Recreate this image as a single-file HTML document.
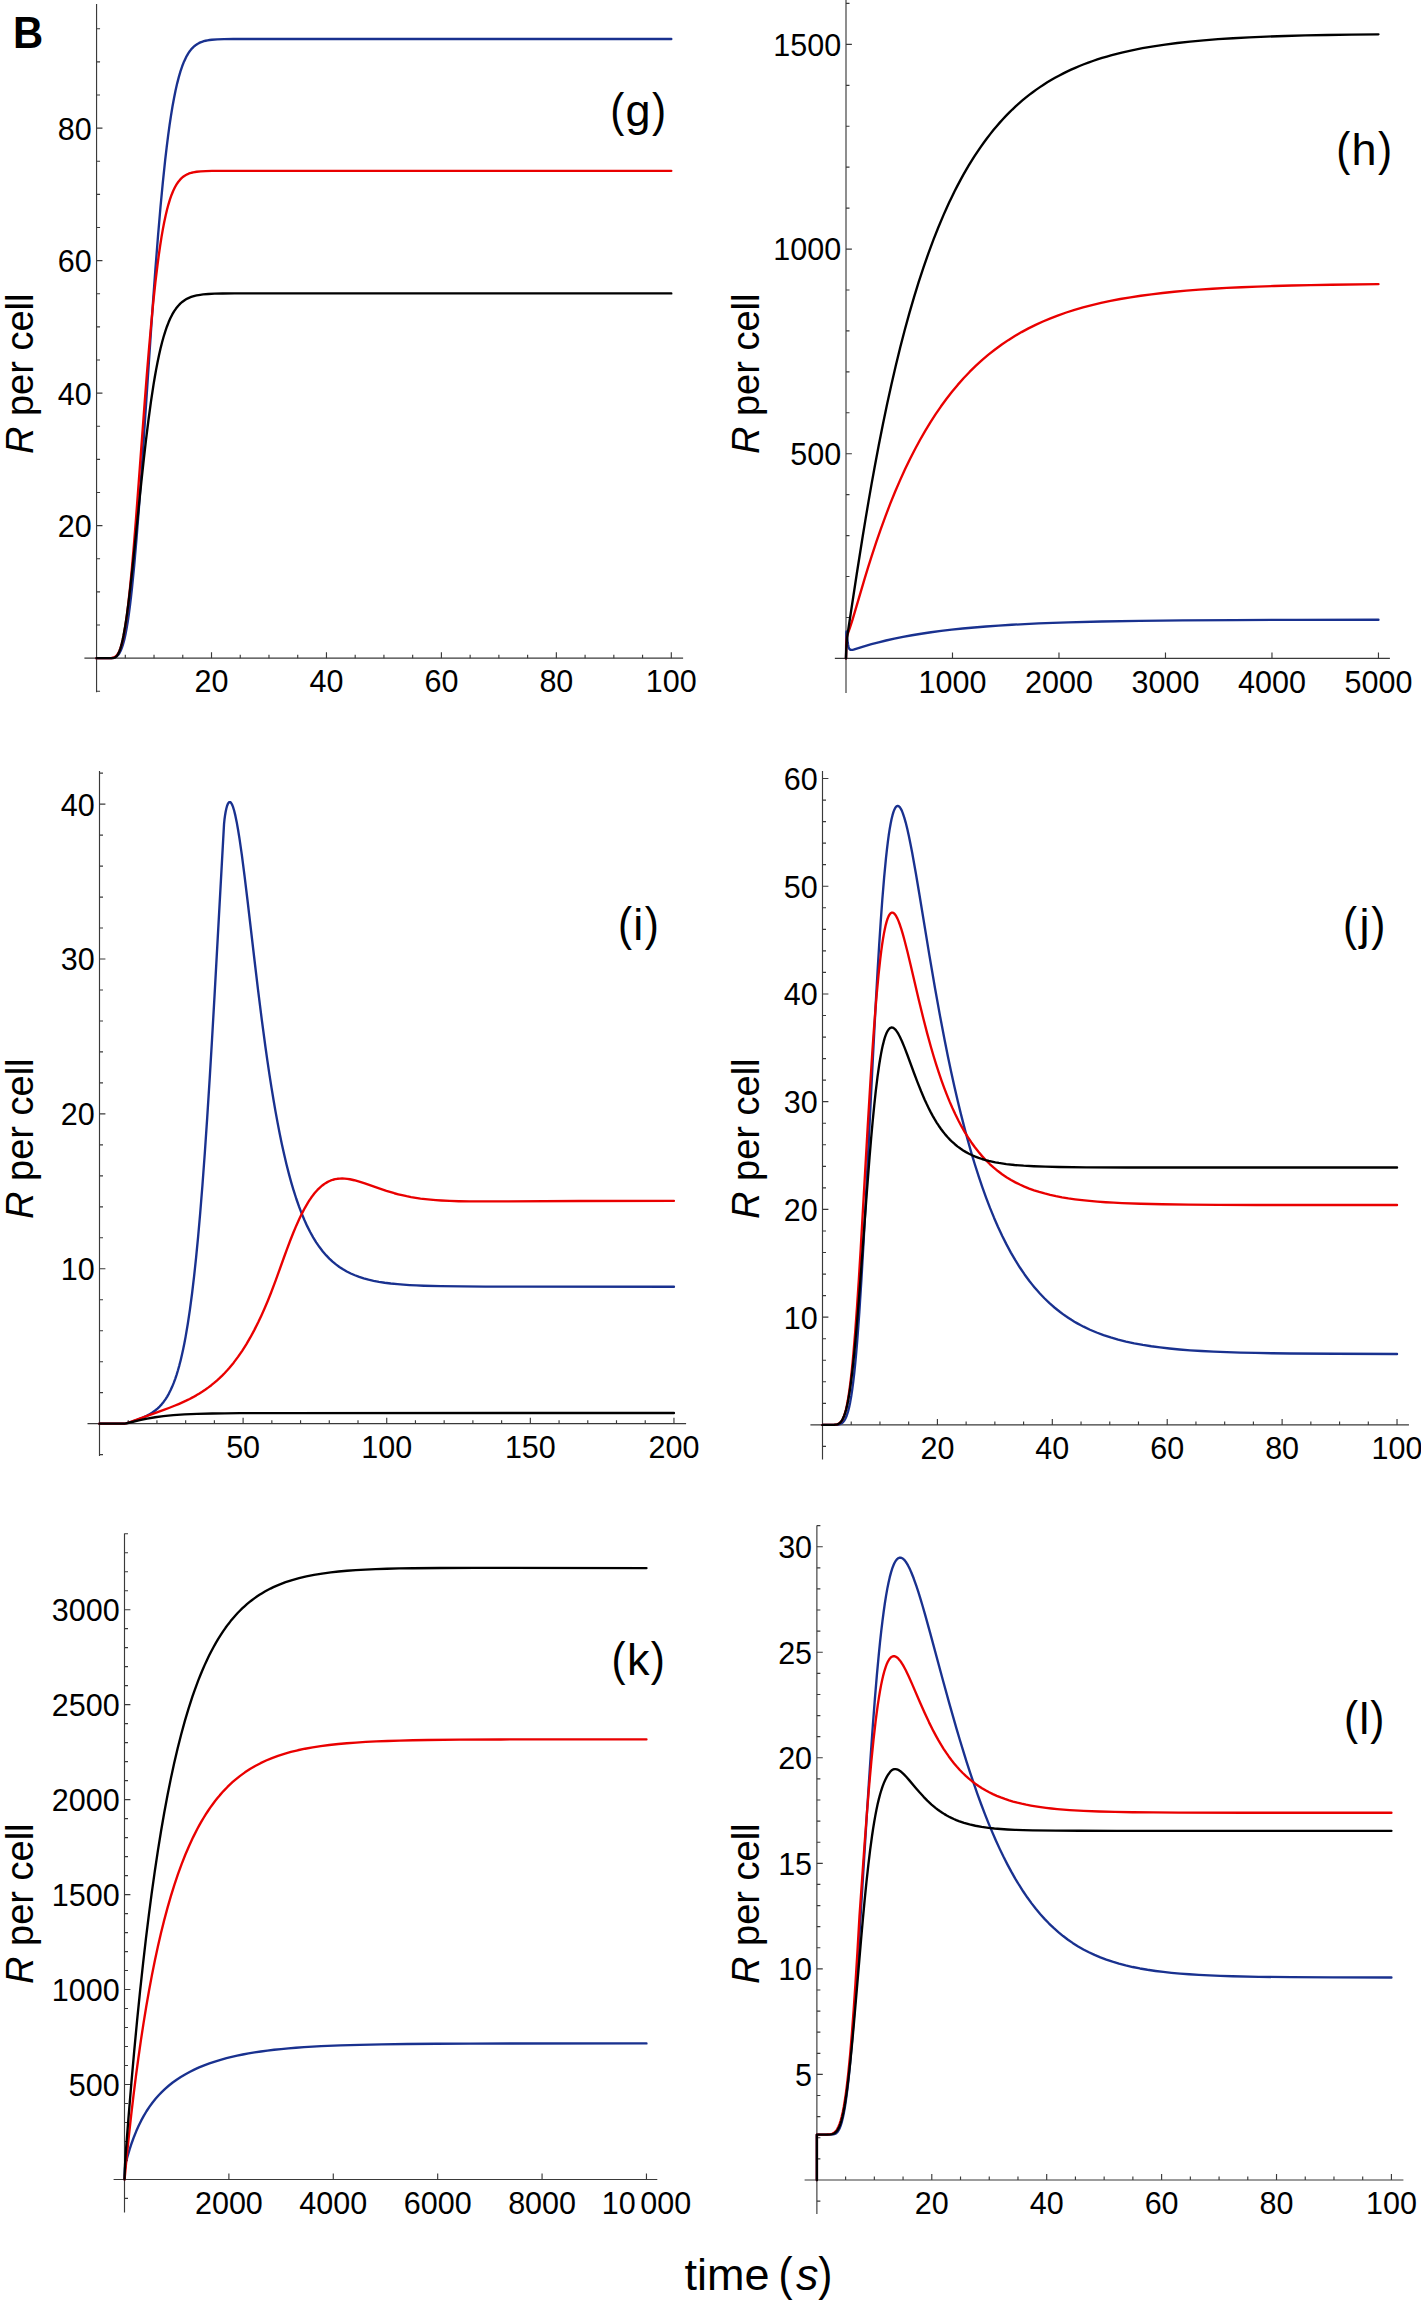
<!DOCTYPE html>
<html><head><meta charset="utf-8"><title>Figure B</title>
<style>
html,body{margin:0;padding:0;background:#fff;}
body{width:1421px;height:2300px;overflow:hidden;}
svg{display:block;font-family:"Liberation Sans",sans-serif;}
</style></head><body>
<svg xmlns="http://www.w3.org/2000/svg" width="1421" height="2300" viewBox="0 0 1421 2300">
<rect width="1421" height="2300" fill="#fff"/>
<g stroke="#3a3a3a" stroke-width="1.15" fill="none">
<line x1="84.4" y1="658.15" x2="683.1" y2="658.15"/>
<line x1="96.56" y1="4" x2="96.56" y2="692.3"/>
<path d="M211.51 658.15v-5.9M326.46 658.15v-5.9M441.4 658.15v-5.9M556.35 658.15v-5.9M671.3 658.15v-5.9M125.3 658.15v-3.5M154.03 658.15v-3.5M182.77 658.15v-3.5M240.25 658.15v-3.5M268.98 658.15v-3.5M297.72 658.15v-3.5M355.19 658.15v-3.5M383.93 658.15v-3.5M412.67 658.15v-3.5M470.14 658.15v-3.5M498.88 658.15v-3.5M527.62 658.15v-3.5M585.09 658.15v-3.5M613.83 658.15v-3.5M642.56 658.15v-3.5M96.56 525.65h5.9M96.56 393.15h5.9M96.56 260.65h5.9M96.56 128.15h5.9M96.56 691.27h3.5M96.56 625.02h3.5M96.56 591.9h3.5M96.56 558.77h3.5M96.56 492.52h3.5M96.56 459.4h3.5M96.56 426.27h3.5M96.56 360.02h3.5M96.56 326.9h3.5M96.56 293.77h3.5M96.56 227.52h3.5M96.56 194.4h3.5M96.56 161.27h3.5M96.56 95.02h3.5M96.56 61.9h3.5M96.56 28.77h3.5"/>
</g>
<g font-size="30.5" fill="#000">
<text x="211.51" y="692.45" text-anchor="middle">20</text>
<text x="326.46" y="692.45" text-anchor="middle">40</text>
<text x="441.4" y="692.45" text-anchor="middle">60</text>
<text x="556.35" y="692.45" text-anchor="middle">80</text>
<text x="671.3" y="692.45" text-anchor="middle">100</text>
<text x="91.76" y="537.05" text-anchor="end">20</text>
<text x="91.76" y="404.55" text-anchor="end">40</text>
<text x="91.76" y="272.05" text-anchor="end">60</text>
<text x="91.76" y="139.55" text-anchor="end">80</text>
</g>
<path d="M96.56 658.15 109.18 658.14 111.13 658.07 112.63 657.91 114.26 657.54 115.67 656.93 116.94 656.07 118.12 654.91 118.81 654.03 119.5 652.98 120.16 651.8 120.79 650.51 122.03 647.43 123.2 643.76 124.35 639.42 125.5 634.26 126.62 628.39 127.72 621.84 128.81 614.45 129.87 606.43 130.96 597.35 132.06 587.43 134.27 564.81 136.6 537.69 138.78 509.57 141.17 476.52 143.64 440.47 150.97 331.07 153.33 297.46 155.48 268.18 158.01 236.02 160.45 207.5 162.86 182.06 165.25 159.38 166.66 147.28 168.1 135.86 169.56 125.16 171.03 115.37 172.52 106.29 174.05 97.94 175.6 90.29 177.18 83.35 178.79 77.1 180.46 71.41 182.18 66.3 183.99 61.69 185.86 57.65 186.84 55.8 187.84 54.06 188.88 52.44 189.91 50.98 190.98 49.63 192.1 48.35 193.33 47.1 194.63 45.96 195.98 44.92 197.39 43.99 198.85 43.17 200.41 42.43 202.04 41.79 203.8 41.22 205.61 40.75 207.53 40.35 209.63 40.02 211.9 39.74 217.16 39.35 223.97 39.13 233.4 39.03 250.79 39 671.3 39" fill="none" stroke="#19318f" stroke-width="2.35" stroke-linejoin="round" stroke-linecap="round"/>
<path d="M96.56 658.15 108.75 658.14 111.56 658.02 112.94 657.78 114.12 657.39 115.18 656.81 116.16 656.03 116.77 655.4 117.35 654.66 118.46 652.87 119.5 650.67 120.51 647.96 121.51 644.69 122.46 640.98 123.4 636.64 124.34 631.7 125.27 626.17 126.22 619.84 127.14 613.05 128.09 605.38 130 587.98 132 567.08 133.9 545.13 135.99 518.94 144.65 402.88 146.77 375.68 148.73 351.83 151 325.99 153.21 302.97 155.39 282.48 157.58 264.26 158.87 254.53 160.18 245.51 161.49 237.17 162.84 229.36 164.2 222.25 165.6 215.67 167.01 209.75 168.47 204.29 169.97 199.39 171.52 194.96 173.13 191 174.8 187.51 176.55 184.41 178.38 181.73 180.31 179.42 181.32 178.4 182.38 177.45 183.53 176.53 184.71 175.72 185.95 174.98 187.24 174.32 188.59 173.73 190.03 173.21 191.55 172.75 193.16 172.36 196.64 171.75 200.72 171.32 205.66 171.05 212.13 170.9 237.54 170.82 671.3 170.82" fill="none" stroke="#e90000" stroke-width="2.35" stroke-linejoin="round" stroke-linecap="round"/>
<path d="M96.56 658.15 112.2 658.13 113.12 658.06 113.89 657.91 114.58 657.69 115.24 657.37 116.19 656.66 117.06 655.7 117.92 654.43 118.72 652.9 119.52 651 120.3 648.8 121.08 646.24 121.85 643.29 122.66 639.81 123.48 635.83 125.13 626.56 126.83 615.33 128.61 601.86 130.39 586.95 132.37 569.04 141.45 480.85 143.81 459.05 146 439.97 148.53 419.49 151.03 401.11 153.53 384.65 154.76 377.23 156.03 370.11 157.49 362.45 158.99 355.27 160.51 348.58 162.03 342.49 163.61 336.77 165.22 331.53 166.88 326.71 168.59 322.3 170.34 318.31 172.15 314.71 174.05 311.44 176 308.55 178.07 305.95 180.23 303.68 182.53 301.67 184.94 299.96 186.38 299.11 187.9 298.32 189.49 297.6 191.15 296.96 192.87 296.39 194.71 295.88 196.64 295.43 198.71 295.04 203.16 294.42 208.37 293.98 214.6 293.69 222.59 293.52 234.55 293.43 256.11 293.41 671.3 293.4" fill="none" stroke="#000000" stroke-width="2.35" stroke-linejoin="round" stroke-linecap="round"/>
<g stroke="#3a3a3a" stroke-width="1.15" fill="none">
<line x1="834.85" y1="658.4" x2="1389.9" y2="658.4"/>
<line x1="846" y1="-1" x2="846" y2="693"/>
<path d="M952.49 658.4v-5.9M1058.98 658.4v-5.9M1165.48 658.4v-5.9M1271.97 658.4v-5.9M1378.46 658.4v-5.9M846 453.73h5.9M846 249.05h5.9M846 44.38h5.9M846 617.46h3.5M846 576.53h3.5M846 535.6h3.5M846 494.66h3.5M846 412.79h3.5M846 371.85h3.5M846 330.92h3.5M846 289.98h3.5M846 208.12h3.5M846 167.18h3.5M846 126.25h3.5M846 85.31h3.5M846 3.44h3.5"/>
</g>
<g font-size="30.5" fill="#000">
<text x="952.49" y="692.7" text-anchor="middle">1000</text>
<text x="1058.98" y="692.7" text-anchor="middle">2000</text>
<text x="1165.48" y="692.7" text-anchor="middle">3000</text>
<text x="1271.97" y="692.7" text-anchor="middle">4000</text>
<text x="1378.46" y="692.7" text-anchor="middle">5000</text>
<text x="841.2" y="465.12" text-anchor="end">500</text>
<text x="841.2" y="260.45" text-anchor="end">1000</text>
<text x="841.2" y="55.77" text-anchor="end">1500</text>
</g>
<path d="M846 658.4 846.21 638.05 846.36 633.16 846.44 631.92 846.53 631.55 846.64 631.84 846.77 632.86 847.33 638.95 847.7 642.29 848.08 644.76 848.48 646.62 849.01 648.2 849.3 648.77 849.62 649.22 849.97 649.55 850.37 649.78 850.82 649.91 851.35 649.95 852.26 649.84 853.54 649.52 863.2 646.52 871.47 644.16 878.65 642.28 885.99 640.5 894.37 638.64 903.01 636.9 911.95 635.27 921.2 633.74 930.99 632.28 941.14 630.93 951.68 629.68 962.68 628.52 974.13 627.46 986.09 626.48 998.6 625.59 1011.71 624.78 1024.76 624.09 1038.52 623.45 1052.98 622.89 1068.25 622.38 1101.62 621.52 1139.7 620.87 1182.75 620.39 1234.05 620.06 1296.8 619.84 1378.46 619.71" fill="none" stroke="#19318f" stroke-width="2.35" stroke-linejoin="round" stroke-linecap="round"/>
<path d="M846 658.4 846.19 649.17 846.44 642.3 846.77 638.19 846.98 636.8 847.22 635.64 847.69 634.11 850.29 626.67 852.63 619.29 864.72 578.42 868.23 566.92 871.65 556.09 876.25 542.12 880.86 528.81 885.52 516.03 890.25 503.7 895.08 491.81 900 480.37 905.01 469.36 910.12 458.75 914.99 449.2 919.97 439.98 925.06 431.09 930.22 422.58 935.49 414.39 940.87 406.54 946.36 399.02 951.98 391.79 957.7 384.88 963.56 378.28 969.55 371.96 975.7 365.92 981.99 360.16 988.43 354.68 995.02 349.48 1001.8 344.53 1008.25 340.15 1014.82 336.02 1021.56 332.1 1028.49 328.37 1035.59 324.84 1042.95 321.47 1050.5 318.3 1058.31 315.3 1066.3 312.5 1074.55 309.86 1083.07 307.39 1091.95 305.05 1101.09 302.89 1110.5 300.88 1120.26 299.02 1130.47 297.29 1140.77 295.73 1151.42 294.3 1162.6 292.98 1174.23 291.77 1186.39 290.67 1199.17 289.67 1212.57 288.76 1226.77 287.94 1241.59 287.22 1257.31 286.58 1273.99 286.01 1291.83 285.51 1310.92 285.08 1331.6 284.71 1378.46 284.13" fill="none" stroke="#e90000" stroke-width="2.35" stroke-linejoin="round" stroke-linecap="round"/>
<path d="M846 658.4 846.27 649.35 846.61 642.84 847.09 637.77 847.92 631.79 856.78 573.78 862.72 536.26 865.7 518.12 868.66 500.66 871.59 483.9 874.52 467.68 878.7 445.47 882.91 424.21 887.17 403.77 891.48 384.14 895.87 365.2 900.32 347.06 904.87 329.52 909.51 312.67 914.11 296.86 918.8 281.7 923.59 267.1 928.49 253.06 933.47 239.65 938.58 226.74 943.8 214.39 946.44 208.46 949.13 202.6 951.84 196.89 954.59 191.32 957.36 185.89 960.15 180.59 962.98 175.42 965.85 170.36 968.75 165.43 971.71 160.59 974.69 155.88 977.72 151.28 980.79 146.8 983.88 142.46 987.02 138.21 990.19 134.1 993.41 130.08 996.68 126.16 999.75 122.64 1002.84 119.23 1005.94 115.92 1009.14 112.66 1012.33 109.52 1015.62 106.43 1018.99 103.39 1022.36 100.47 1025.74 97.67 1029.2 94.93 1032.75 92.23 1036.3 89.65 1039.94 87.13 1043.58 84.72 1047.3 82.36 1051.12 80.06 1055.03 77.82 1058.93 75.68 1062.92 73.61 1066.92 71.63 1071.09 69.68 1075.26 67.82 1079.52 66.02 1083.87 64.28 1088.31 62.61 1092.84 60.99 1097.36 59.46 1102.07 57.97 1106.86 56.53 1111.74 55.15 1121.77 52.58 1131.89 50.3 1142.45 48.2 1153.46 46.3 1165.09 44.56 1177.25 42.99 1190.03 41.58 1203.61 40.32 1217.99 39.2 1233.07 38.22 1249.14 37.36 1266.45 36.62 1285.09 35.98 1305.23 35.44 1327.25 34.98 1351.48 34.61 1378.46 34.31" fill="none" stroke="#000000" stroke-width="2.35" stroke-linejoin="round" stroke-linecap="round"/>
<g stroke="#3a3a3a" stroke-width="1.15" fill="none">
<line x1="87.5" y1="1423.65" x2="686.1" y2="1423.65"/>
<line x1="99.5" y1="771" x2="99.5" y2="1456"/>
<path d="M243.11 1423.65v-5.9M386.73 1423.65v-5.9M530.34 1423.65v-5.9M673.95 1423.65v-5.9M128.22 1423.65v-3.5M156.94 1423.65v-3.5M185.67 1423.65v-3.5M214.39 1423.65v-3.5M271.84 1423.65v-3.5M300.56 1423.65v-3.5M329.28 1423.65v-3.5M358 1423.65v-3.5M415.45 1423.65v-3.5M444.17 1423.65v-3.5M472.89 1423.65v-3.5M501.62 1423.65v-3.5M559.06 1423.65v-3.5M587.78 1423.65v-3.5M616.5 1423.65v-3.5M645.23 1423.65v-3.5M99.5 1268.77h5.9M99.5 1113.89h5.9M99.5 959.01h5.9M99.5 804.13h5.9M99.5 1454.63h3.5M99.5 1392.67h3.5M99.5 1361.7h3.5M99.5 1330.72h3.5M99.5 1299.75h3.5M99.5 1237.79h3.5M99.5 1206.82h3.5M99.5 1175.84h3.5M99.5 1144.87h3.5M99.5 1082.91h3.5M99.5 1051.94h3.5M99.5 1020.96h3.5M99.5 989.99h3.5M99.5 928.03h3.5M99.5 897.06h3.5M99.5 866.08h3.5M99.5 835.11h3.5M99.5 773.15h3.5"/>
</g>
<g font-size="30.5" fill="#000">
<text x="243.11" y="1457.95" text-anchor="middle">50</text>
<text x="386.73" y="1457.95" text-anchor="middle">100</text>
<text x="530.34" y="1457.95" text-anchor="middle">150</text>
<text x="673.95" y="1457.95" text-anchor="middle">200</text>
<text x="94.7" y="1280.17" text-anchor="end">10</text>
<text x="94.7" y="1125.29" text-anchor="end">20</text>
<text x="94.7" y="970.41" text-anchor="end">30</text>
<text x="94.7" y="815.53" text-anchor="end">40</text>
</g>
<path d="M99.5 1423.65 124.03 1423.65 125.58 1423.43 127.8 1422.92 132.13 1421.64 137.05 1419.96 141.54 1418.2 145.52 1416.42 148.91 1414.66 152.01 1412.78 154.85 1410.77 157.47 1408.6 159.63 1406.55 161.65 1404.35 163.59 1401.94 165.43 1399.37 167.2 1396.58 168.91 1393.56 170.54 1390.33 172.12 1386.85 173.65 1383.13 175.14 1379.1 176.58 1374.8 177.98 1370.24 179.36 1365.32 180.68 1360.17 182 1354.57 183.27 1348.76 184.44 1342.97 185.59 1336.86 187.81 1323.77 189.96 1309.34 192.06 1293.52 194.11 1276.22 196.14 1257.18 198.13 1236.58 200.1 1214.23 202.46 1184.98 204.81 1152.97 207.23 1117.42 209.72 1078.07 212 1039.98 214.5 996.4 224.03 824.07 224.46 819.76 225.04 815.44 225.7 811.53 226.42 808.22 227.14 805.69 227.91 803.79 228.29 803.12 228.69 802.6 229.09 802.25 229.49 802.06 230.04 802.08 230.59 802.39 231.16 803 231.73 803.91 232.32 805.12 232.91 806.63 234.12 810.51 235.38 815.64 236.67 821.91 238.02 829.42 239.46 838.36 241.87 855.19 244.57 876.05 247.5 900.25 254.6 961.01 258.07 990.06 261.81 1019.82 265.34 1046.24 267.38 1060.63 269.42 1074.37 271.46 1087.44 273.49 1099.81 275.5 1111.41 277.61 1122.91 279.72 1133.74 281.82 1143.93 284.12 1154.35 286.51 1164.46 288.91 1173.85 291.3 1182.57 293.79 1190.96 296.38 1199 298.96 1206.38 301.64 1213.41 304.42 1220.07 307.2 1226.14 310.17 1232.03 313.14 1237.36 316.2 1242.34 319.46 1247.08 322.81 1251.45 326.25 1255.44 329.32 1258.62 332.57 1261.64 335.93 1264.42 339.37 1266.96 343.01 1269.33 346.75 1271.47 350.77 1273.48 354.89 1275.27 359.19 1276.89 363.7 1278.33 368.48 1279.64 373.56 1280.8 378.92 1281.82 384.67 1282.72 390.79 1283.5 397.5 1284.18 403.34 1284.66 409.56 1285.06 416.36 1285.42 423.74 1285.71 440.59 1286.16 461.66 1286.45 485.31 1286.59 518.25 1286.67 673.95 1286.7" fill="none" stroke="#19318f" stroke-width="2.35" stroke-linejoin="round" stroke-linecap="round"/>
<path d="M99.5 1423.65 124.01 1423.65 125.9 1423.32 129.47 1422.29 134.78 1420.45 163.82 1409.88 169.51 1407.74 174.48 1405.78 178.6 1404.07 182.46 1402.37 186.14 1400.67 189.65 1398.94 193.04 1397.16 196.28 1395.35 199.44 1393.47 202.52 1391.53 205.53 1389.5 208.46 1387.4 211.34 1385.21 214.12 1382.95 216.85 1380.6 219.55 1378.14 222.19 1375.59 224.78 1372.95 227.05 1370.5 229.29 1367.97 233.69 1362.64 237.99 1356.91 242.18 1350.83 246.3 1344.33 250.32 1337.45 254.28 1330.12 258.22 1322.3 261.44 1315.47 264.65 1308.26 267.84 1300.72 271.03 1292.78 275.79 1280.19 283.93 1257.48 287.18 1248.56 290.34 1240.21 293.31 1232.73 296.28 1225.66 299.15 1219.27 302.03 1213.33 304.8 1208.06 307.96 1202.63 309.5 1200.21 311.12 1197.8 312.66 1195.68 314.28 1193.58 315.82 1191.75 317.44 1189.95 319.07 1188.3 320.7 1186.8 322.33 1185.44 323.96 1184.22 325.58 1183.14 327.31 1182.13 329.03 1181.26 330.85 1180.48 332.96 1179.76 335.16 1179.19 337.46 1178.79 339.76 1178.56 342.15 1178.49 344.64 1178.59 347.22 1178.85 349.91 1179.27 354.31 1180.23 359.29 1181.63 364.84 1183.44 379.11 1188.46 386.39 1190.88 394.34 1193.24 398.26 1194.28 402.09 1195.21 406.59 1196.2 411.1 1197.07 415.69 1197.85 420.48 1198.56 425.36 1199.16 430.44 1199.69 435.8 1200.14 441.35 1200.52 449.69 1200.92 458.78 1201.21 469.12 1201.38 481.19 1201.44 498.23 1201.41 580.2 1200.96 673.95 1200.83" fill="none" stroke="#e90000" stroke-width="2.35" stroke-linejoin="round" stroke-linecap="round"/>
<path d="M99.5 1423.65 124.29 1423.63 125.79 1423.42 127.84 1423 139.78 1420.15 147.16 1418.59 155.12 1417.23 163.45 1416.12 168.27 1415.61 173.36 1415.15 184.45 1414.41 197.12 1413.87 212.14 1413.49 224.78 1413.31 239.95 1413.18 283.83 1413.06 673.95 1413.03" fill="none" stroke="#000000" stroke-width="2.35" stroke-linejoin="round" stroke-linecap="round"/>
<g stroke="#3a3a3a" stroke-width="1.15" fill="none">
<line x1="810.4" y1="1424.88" x2="1408.95" y2="1424.88"/>
<line x1="822.5" y1="771.1" x2="822.5" y2="1459.4"/>
<path d="M937.41 1424.88v-5.9M1052.31 1424.88v-5.9M1167.22 1424.88v-5.9M1282.12 1424.88v-5.9M1397.03 1424.88v-5.9M851.23 1424.88v-3.5M879.95 1424.88v-3.5M908.68 1424.88v-3.5M966.13 1424.88v-3.5M994.86 1424.88v-3.5M1023.59 1424.88v-3.5M1081.04 1424.88v-3.5M1109.76 1424.88v-3.5M1138.49 1424.88v-3.5M1195.94 1424.88v-3.5M1224.67 1424.88v-3.5M1253.4 1424.88v-3.5M1310.85 1424.88v-3.5M1339.58 1424.88v-3.5M1368.3 1424.88v-3.5M822.5 1317.15h5.9M822.5 1209.42h5.9M822.5 1101.69h5.9M822.5 993.96h5.9M822.5 886.23h5.9M822.5 778.5h5.9M822.5 1446.43h3.5M822.5 1403.33h3.5M822.5 1381.79h3.5M822.5 1360.24h3.5M822.5 1338.7h3.5M822.5 1295.6h3.5M822.5 1274.06h3.5M822.5 1252.51h3.5M822.5 1230.97h3.5M822.5 1187.87h3.5M822.5 1166.33h3.5M822.5 1144.78h3.5M822.5 1123.24h3.5M822.5 1080.14h3.5M822.5 1058.6h3.5M822.5 1037.05h3.5M822.5 1015.51h3.5M822.5 972.41h3.5M822.5 950.87h3.5M822.5 929.32h3.5M822.5 907.78h3.5M822.5 864.68h3.5M822.5 843.14h3.5M822.5 821.59h3.5M822.5 800.05h3.5"/>
</g>
<g font-size="30.5" fill="#000">
<text x="937.41" y="1459.18" text-anchor="middle">20</text>
<text x="1052.31" y="1459.18" text-anchor="middle">40</text>
<text x="1167.22" y="1459.18" text-anchor="middle">60</text>
<text x="1282.12" y="1459.18" text-anchor="middle">80</text>
<text x="1397.03" y="1459.18" text-anchor="middle">100</text>
<text x="817.7" y="1328.55" text-anchor="end">10</text>
<text x="817.7" y="1220.82" text-anchor="end">20</text>
<text x="817.7" y="1113.09" text-anchor="end">30</text>
<text x="817.7" y="1005.36" text-anchor="end">40</text>
<text x="817.7" y="897.63" text-anchor="end">50</text>
<text x="817.7" y="789.9" text-anchor="end">60</text>
</g>
<path d="M822.5 1424.88 834.54 1424.85 836.75 1424.74 838.45 1424.52 839.36 1424.31 840.17 1424.03 840.92 1423.69 841.64 1423.27 842.3 1422.78 842.93 1422.2 843.53 1421.54 844.13 1420.75 844.82 1419.67 845.49 1418.45 846.12 1417.07 846.75 1415.48 847.93 1411.85 849.08 1407.4 850.18 1402.15 851.26 1395.98 852.29 1389.06 853.33 1381.08 854.33 1372.25 855.34 1362.34 856.32 1351.66 857.32 1339.59 859.36 1311.81 861.46 1278.95 863.33 1246.5 865.37 1208.32 872.75 1060.56 875.88 1000.98 877.58 971.1 879.2 944.53 880.77 920.8 882.32 899.5 884.16 877.13 886 857.97 886.92 849.59 887.82 842.15 888.75 835.2 889.67 829.16 890.62 823.73 891.57 819.08 892.52 815.18 893.5 811.92 894.47 809.4 894.96 808.41 895.48 807.55 895.97 806.91 896.48 806.41 897 806.09 897.52 805.94 898.15 805.99 898.78 806.28 899.41 806.8 900.07 807.58 900.74 808.59 901.4 809.82 902.09 811.34 902.78 813.07 904.21 817.32 905.71 822.58 907.26 828.83 908.92 836.31 910.48 843.89 912.14 852.56 915.88 873.51 919.41 894.54 929.24 954.32 934.98 987.97 939.92 1015.37 944.72 1040.56 947.91 1056.41 951.13 1071.7 954.38 1086.44 957.62 1100.49 960.93 1114.1 964.26 1127.15 967.65 1139.76 971.07 1151.81 974.72 1163.98 978.45 1175.73 982.22 1186.88 986.08 1197.63 990 1207.89 994 1217.68 998.05 1226.96 1002.26 1235.99 1006.48 1244.4 1010.88 1252.58 1015.29 1260.17 1019.88 1267.51 1024.58 1274.44 1029.37 1280.95 1031.86 1284.13 1034.35 1287.18 1036.84 1290.1 1039.42 1293 1044.4 1298.23 1049.48 1303.12 1052.06 1305.44 1054.74 1307.75 1060.11 1312.04 1062.89 1314.11 1065.66 1316.08 1068.54 1318.01 1071.41 1319.86 1074.38 1321.66 1077.35 1323.37 1080.41 1325.05 1083.57 1326.68 1089.99 1329.73 1096.6 1332.52 1103.49 1335.09 1110.67 1337.45 1118.14 1339.6 1126 1341.57 1134.23 1343.34 1142.85 1344.94 1151.28 1346.27 1160.09 1347.45 1169.48 1348.52 1179.44 1349.47 1190.07 1350.3 1201.37 1351.02 1213.53 1351.64 1226.65 1352.17 1240.35 1352.6 1255.38 1352.95 1271.95 1353.25 1290.53 1353.48 1334.97 1353.79 1397.03 1353.95" fill="none" stroke="#19318f" stroke-width="2.35" stroke-linejoin="round" stroke-linecap="round"/>
<path d="M822.5 1424.88 832.75 1424.85 834.68 1424.76 836.15 1424.57 837.7 1424.14 839.02 1423.48 840.22 1422.54 841.32 1421.27 841.94 1420.36 842.53 1419.34 843.67 1416.82 844.77 1413.71 845.8 1410.02 846.81 1405.64 847.78 1400.58 848.74 1394.78 849.68 1388.26 850.6 1381.02 851.52 1372.93 852.41 1364.26 853.33 1354.47 855.17 1332.38 857.09 1305.91 858.82 1279.71 860.71 1248.71 867.67 1127.33 870.62 1078.22 872.26 1053.03 873.81 1030.82 875.31 1011.13 876.8 993.21 878.55 974.57 880.31 958.54 881.2 951.39 882.07 945.03 882.98 939.07 883.87 933.87 884.79 929.16 885.71 925.1 886.63 921.66 887.58 918.73 888.52 916.41 889.5 914.62 889.99 913.95 890.5 913.4 891 913 891.51 912.73 892.06 912.6 892.6 912.62 893.15 912.79 893.72 913.12 894.3 913.6 894.87 914.22 895.48 915.02 896.08 915.97 897.35 918.37 898.64 921.38 899.99 925.03 901.42 929.38 902.76 933.87 904.18 938.99 907.4 951.53 910.45 964.21 918.69 999.42 923.35 1018.49 927.25 1033.61 931.08 1047.48 933.63 1056.23 936.22 1064.65 938.83 1072.72 941.45 1080.36 944.09 1087.66 946.79 1094.7 949.52 1101.4 952.31 1107.83 955.32 1114.34 958.4 1120.54 961.53 1126.43 964.75 1132.05 968.05 1137.4 971.42 1142.46 974.89 1147.27 978.45 1151.83 982.1 1156.13 985.87 1160.2 989.74 1164.04 993.74 1167.65 997.86 1171.04 1002.07 1174.19 1006.48 1177.17 1011.07 1179.98 1015.38 1182.35 1019.79 1184.55 1024.39 1186.61 1029.17 1188.54 1034.06 1190.3 1039.23 1191.96 1044.59 1193.48 1050.15 1194.87 1055.99 1196.15 1062.02 1197.31 1068.34 1198.36 1075.05 1199.32 1082.04 1200.17 1089.51 1200.94 1097.36 1201.62 1105.79 1202.23 1113.64 1202.69 1122.07 1203.11 1140.75 1203.78 1162.39 1204.28 1188.44 1204.62 1218.23 1204.83 1256.92 1204.95 1397.03 1205.04" fill="none" stroke="#e90000" stroke-width="2.35" stroke-linejoin="round" stroke-linecap="round"/>
<path d="M822.5 1424.88 832.47 1424.86 834.37 1424.79 835.8 1424.65 837.25 1424.34 838.47 1423.87 839.57 1423.19 840.54 1422.3 841.64 1420.89 842.96 1418.6 843.99 1416.27 845.01 1413.42 846 1410.01 846.95 1406.15 847.9 1401.64 848.84 1396.51 849.74 1390.95 850.63 1384.8 852.41 1370.59 854.22 1353.59 856.09 1333.57 857.78 1313.51 859.65 1289.77 866.55 1196.18 869.52 1157.78 871.14 1138.44 872.69 1121.18 874.22 1105.59 875.71 1091.68 877.47 1077.12 879.24 1064.51 880.13 1058.94 881.03 1053.88 881.92 1049.31 882.84 1045.11 883.76 1041.41 884.67 1038.19 885.61 1035.39 886.57 1033.01 887.55 1031.06 888.55 1029.52 889.56 1028.44 890.08 1028.05 890.59 1027.77 891.11 1027.59 891.63 1027.51 892.14 1027.53 892.66 1027.64 893.21 1027.85 893.75 1028.16 894.87 1029.07 896.05 1030.39 897.26 1032.08 898.52 1034.19 899.84 1036.71 902.06 1041.5 904.58 1047.62 907.31 1054.79 914.1 1073.23 917.46 1082.13 921.11 1091.3 924.58 1099.42 926.59 1103.83 928.58 1107.95 930.56 1111.86 932.57 1115.6 934.61 1119.18 936.65 1122.53 938.72 1125.72 940.82 1128.74 943.08 1131.77 945.37 1134.62 947.71 1137.3 950.12 1139.84 952.6 1142.24 955.14 1144.49 957.74 1146.59 960.44 1148.57 963.2 1150.4 966.07 1152.13 969.03 1153.72 972.1 1155.21 975.29 1156.58 978.61 1157.84 982.05 1159 985.66 1160.07 988.77 1160.88 991.99 1161.62 995.37 1162.32 998.81 1162.94 1006.28 1164.05 1014.52 1164.96 1023.62 1165.69 1033.77 1166.26 1045.45 1166.7 1059.05 1167.02 1086.25 1167.32 1127.15 1167.46 1397.03 1167.5" fill="none" stroke="#000000" stroke-width="2.35" stroke-linejoin="round" stroke-linecap="round"/>
<g stroke="#3a3a3a" stroke-width="1.15" fill="none">
<line x1="113.6" y1="2179.45" x2="657.3" y2="2179.45"/>
<line x1="124.5" y1="1533.5" x2="124.5" y2="2212.5"/>
<path d="M228.89 2179.45v-5.9M333.28 2179.45v-5.9M437.68 2179.45v-5.9M542.07 2179.45v-5.9M646.46 2179.45v-5.9M124.5 2084.49h5.9M124.5 1989.53h5.9M124.5 1894.57h5.9M124.5 1799.62h5.9M124.5 1704.66h5.9M124.5 1609.7h5.9M124.5 2198.44h3.5M124.5 2160.46h3.5M124.5 2141.47h3.5M124.5 2122.47h3.5M124.5 2103.48h3.5M124.5 2065.5h3.5M124.5 2046.51h3.5M124.5 2027.52h3.5M124.5 2008.52h3.5M124.5 1970.54h3.5M124.5 1951.55h3.5M124.5 1932.56h3.5M124.5 1913.57h3.5M124.5 1875.58h3.5M124.5 1856.59h3.5M124.5 1837.6h3.5M124.5 1818.61h3.5M124.5 1780.62h3.5M124.5 1761.63h3.5M124.5 1742.64h3.5M124.5 1723.65h3.5M124.5 1685.67h3.5M124.5 1666.67h3.5M124.5 1647.68h3.5M124.5 1628.69h3.5M124.5 1590.71h3.5M124.5 1571.72h3.5M124.5 1552.72h3.5M124.5 1533.73h3.5"/>
</g>
<g font-size="30.5" fill="#000">
<text x="228.89" y="2213.75" text-anchor="middle">2000</text>
<text x="333.28" y="2213.75" text-anchor="middle">4000</text>
<text x="437.68" y="2213.75" text-anchor="middle">6000</text>
<text x="542.07" y="2213.75" text-anchor="middle">8000</text>
<text x="646.46" y="2213.75" text-anchor="middle">10<tspan dx="4.5">000</tspan></text>
<text x="119.7" y="2095.89" text-anchor="end">500</text>
<text x="119.7" y="2000.93" text-anchor="end">1000</text>
<text x="119.7" y="1905.97" text-anchor="end">1500</text>
<text x="119.7" y="1811.02" text-anchor="end">2000</text>
<text x="119.7" y="1716.06" text-anchor="end">2500</text>
<text x="119.7" y="1621.1" text-anchor="end">3000</text>
</g>
<path d="M124.5 2179.45 124.68 2173.14 124.92 2168.7 125.23 2165.65 125.67 2163.23 127.29 2157.12 129.54 2149.61 131.73 2142.99 134.03 2136.71 136.3 2131.09 138.67 2125.74 141.15 2120.68 143.76 2115.85 146.5 2111.25 149.38 2106.88 152.4 2102.71 155.56 2098.76 158.69 2095.2 161.96 2091.82 165.38 2088.59 168.96 2085.5 172.71 2082.54 176.65 2079.7 180.78 2076.99 185.08 2074.41 189.57 2071.96 194.25 2069.63 199.1 2067.43 204.16 2065.35 209.42 2063.38 214.89 2061.53 220.58 2059.8 226.47 2058.18 231.73 2056.87 237.16 2055.64 242.77 2054.49 248.59 2053.41 254.62 2052.4 260.86 2051.47 267.36 2050.6 274.12 2049.79 281.11 2049.05 288.42 2048.37 295.99 2047.75 304 2047.18 321.14 2046.2 340.28 2045.4 359.77 2044.82 381.78 2044.36 406.93 2044.01 436.42 2043.76 470.18 2043.59 512.29 2043.49 646.46 2043.4" fill="none" stroke="#19318f" stroke-width="2.35" stroke-linejoin="round" stroke-linecap="round"/>
<path d="M124.5 2179.45 124.6 2179.09 124.73 2177.98 126.22 2161.7 128.89 2135.89 131.16 2115.38 133.51 2095.47 135.93 2076.19 138.41 2057.72 140.97 2039.88 143.58 2022.83 146.3 2006.25 149.06 1990.44 151.93 1975.12 154.87 1960.51 157.88 1946.49 160.99 1933.05 164.2 1920.13 167.49 1907.83 170.86 1896.14 174.3 1885.06 177.88 1874.4 181.53 1864.34 185.29 1854.79 189.18 1845.7 193.18 1837.11 197.27 1829.04 199.36 1825.18 201.5 1821.41 203.68 1817.74 205.89 1814.19 208.13 1810.74 210.4 1807.42 212.73 1804.19 215.08 1801.07 217.48 1798.04 219.9 1795.13 222.38 1792.3 224.91 1789.58 227.47 1786.95 230.08 1784.42 232.75 1781.97 235.46 1779.62 240.13 1775.86 244.96 1772.35 249.97 1769.07 255.17 1766 260.55 1763.17 266.13 1760.54 271.95 1758.1 278.01 1755.87 284.25 1753.85 290.86 1751.97 297.73 1750.27 305.04 1748.72 312.7 1747.33 320.7 1746.09 329.23 1744.98 338.37 1744 346.89 1743.23 356.03 1742.55 365.77 1741.95 376.21 1741.43 387.44 1740.99 399.62 1740.61 412.93 1740.29 427.55 1740.03 459.57 1739.68 500.81 1739.46 556.41 1739.35 646.46 1739.31" fill="none" stroke="#e90000" stroke-width="2.35" stroke-linejoin="round" stroke-linecap="round"/>
<path d="M124.5 2179.45 124.97 2165.68 125.7 2153.49 128.33 2119.56 131.34 2083.35 134.18 2051.3 137.11 2020.42 140.07 1991.09 143.11 1963.02 145.93 1938.62 148.83 1915.09 151.78 1892.66 154.78 1871.31 157.86 1850.84 161.02 1831.28 164.23 1812.76 167.54 1794.99 170.83 1778.62 174.2 1763.07 177.66 1748.26 181.22 1734.19 184.87 1720.87 188.61 1708.35 192.47 1696.46 194.43 1690.82 196.44 1685.28 198.47 1679.91 200.54 1674.73 202.62 1669.72 204.74 1664.88 206.9 1660.18 209.1 1655.61 211.32 1651.22 213.59 1646.96 215.88 1642.87 218.23 1638.9 220.63 1635.05 223.06 1631.36 225.54 1627.81 228.05 1624.41 230.63 1621.1 233.24 1617.95 235.43 1615.45 237.65 1613.03 239.9 1610.72 242.2 1608.46 244.54 1606.28 246.92 1604.19 249.35 1602.16 251.8 1600.23 254.32 1598.35 256.89 1596.54 259.5 1594.81 262.16 1593.15 264.88 1591.56 267.65 1590.04 270.49 1588.57 273.39 1587.17 276.33 1585.84 279.34 1584.57 285.55 1582.22 292.16 1580.06 299.04 1578.14 306.35 1576.42 314 1574.9 322.09 1573.57 330.8 1572.4 338.63 1571.54 346.98 1570.79 355.85 1570.14 365.42 1569.59 375.69 1569.13 386.92 1568.75 399.18 1568.45 412.84 1568.22 439.82 1567.98 474.97 1567.89 646.46 1568.09" fill="none" stroke="#000000" stroke-width="2.35" stroke-linejoin="round" stroke-linecap="round"/>
<g stroke="#3a3a3a" stroke-width="1.15" fill="none">
<line x1="804.6" y1="2179.95" x2="1403.4" y2="2179.95"/>
<line x1="816.88" y1="1525.6" x2="816.88" y2="2214"/>
<path d="M931.79 2179.95v-5.9M1046.7 2179.95v-5.9M1161.61 2179.95v-5.9M1276.52 2179.95v-5.9M1391.43 2179.95v-5.9M845.61 2179.95v-3.5M874.34 2179.95v-3.5M903.06 2179.95v-3.5M960.52 2179.95v-3.5M989.25 2179.95v-3.5M1017.97 2179.95v-3.5M1075.43 2179.95v-3.5M1104.15 2179.95v-3.5M1132.88 2179.95v-3.5M1190.34 2179.95v-3.5M1219.07 2179.95v-3.5M1247.79 2179.95v-3.5M1305.25 2179.95v-3.5M1333.97 2179.95v-3.5M1362.7 2179.95v-3.5M816.88 2074.41h5.9M816.88 1968.87h5.9M816.88 1863.33h5.9M816.88 1757.79h5.9M816.88 1652.25h5.9M816.88 1546.71h5.9M816.88 2201.06h3.5M816.88 2158.84h3.5M816.88 2137.73h3.5M816.88 2116.63h3.5M816.88 2095.52h3.5M816.88 2053.3h3.5M816.88 2032.19h3.5M816.88 2011.09h3.5M816.88 1989.98h3.5M816.88 1947.76h3.5M816.88 1926.65h3.5M816.88 1905.55h3.5M816.88 1884.44h3.5M816.88 1842.22h3.5M816.88 1821.11h3.5M816.88 1800.01h3.5M816.88 1778.9h3.5M816.88 1736.68h3.5M816.88 1715.57h3.5M816.88 1694.47h3.5M816.88 1673.36h3.5M816.88 1631.14h3.5M816.88 1610.03h3.5M816.88 1588.93h3.5M816.88 1567.82h3.5M816.88 1525.6h3.5"/>
</g>
<g font-size="30.5" fill="#000">
<text x="931.79" y="2214.25" text-anchor="middle">20</text>
<text x="1046.7" y="2214.25" text-anchor="middle">40</text>
<text x="1161.61" y="2214.25" text-anchor="middle">60</text>
<text x="1276.52" y="2214.25" text-anchor="middle">80</text>
<text x="1391.43" y="2214.25" text-anchor="middle">100</text>
<text x="812.08" y="2085.81" text-anchor="end">5</text>
<text x="812.08" y="1980.27" text-anchor="end">10</text>
<text x="812.08" y="1874.73" text-anchor="end">15</text>
<text x="812.08" y="1769.19" text-anchor="end">20</text>
<text x="812.08" y="1663.65" text-anchor="end">25</text>
<text x="812.08" y="1558.11" text-anchor="end">30</text>
</g>
<path d="M816.88 2179.95L816.88 2134.57 830.04 2134.56 832.8 2134.42 834.21 2134.14 835.38 2133.66 836.48 2132.93 837.45 2131.95 838.06 2131.17 838.66 2130.22 839.81 2127.92 840.9 2125.02 841.93 2121.55 842.97 2117.31 843.97 2112.38 844.95 2106.79 845.93 2100.38 846.93 2092.91 847.91 2084.79 848.89 2075.83 849.89 2065.74 851.93 2042.71 854.04 2015.64 856.04 1987.32 858.23 1954.15 866.82 1814.96 868.83 1783.51 870.67 1755.99 872.81 1725.76 874.86 1699.04 876.87 1675.08 878.86 1653.75 880.03 1642.18 881.24 1631.19 882.42 1621.28 883.63 1611.98 884.83 1603.52 886.04 1595.87 887.27 1588.87 888.51 1582.66 889.76 1577.16 891.04 1572.36 892.35 1568.2 893.68 1564.75 894.36 1563.27 895.03 1562 895.72 1560.87 896.41 1559.92 897.1 1559.15 897.82 1558.52 898.54 1558.06 899.28 1557.77 900.17 1557.64 901.09 1557.76 902.02 1558.12 902.96 1558.72 903.94 1559.57 904.92 1560.66 905.92 1561.99 906.96 1563.58 908.02 1565.44 909.08 1567.49 910.2 1569.87 911.35 1572.5 913.74 1578.54 916.26 1585.68 918.25 1591.71 920.34 1598.43 922.61 1606.02 925.09 1614.6 930.14 1632.82 942.99 1680.44 949.43 1703.88 956.35 1728.11 959.65 1739.28 962.9 1749.96 966.6 1761.79 970.28 1773.13 973.93 1783.97 977.55 1794.32 981.17 1804.26 984.82 1813.87 988.47 1823.06 992.15 1831.92 995.88 1840.5 999.71 1848.87 1003.54 1856.82 1007.38 1864.35 1011.3 1871.66 1015.23 1878.57 1019.25 1885.24 1023.27 1891.52 1027.39 1897.56 1031.61 1903.35 1035.82 1908.77 1040.13 1913.94 1044.54 1918.86 1049.04 1923.53 1053.63 1927.95 1058.33 1932.12 1063.12 1936.04 1068 1939.72 1072.98 1943.15 1078.15 1946.41 1083.42 1949.43 1088.88 1952.27 1094.53 1954.93 1100.37 1957.39 1106.31 1959.64 1112.54 1961.73 1118.95 1963.65 1125.66 1965.41 1132.65 1967.02 1139.93 1968.47 1147.49 1969.78 1155.54 1970.97 1163.3 1971.95 1171.44 1972.82 1180.06 1973.61 1189.15 1974.29 1198.83 1974.89 1209.27 1975.42 1220.38 1975.87 1232.44 1976.25 1258.78 1976.8 1291.15 1977.17 1332.43 1977.38 1391.43 1977.48" fill="none" stroke="#19318f" stroke-width="2.35" stroke-linejoin="round" stroke-linecap="round"/>
<path d="M816.88 2179.95L816.88 2134.57 826.79 2134.53 828.86 2134.43 830.47 2134.21 832.08 2133.78 833.49 2133.11 834.75 2132.19 835.93 2130.97 836.59 2130.1 837.22 2129.11 838.43 2126.78 839.58 2123.93 840.67 2120.55 841.73 2116.57 842.77 2111.97 843.79 2106.65 844.78 2100.76 845.7 2094.56 846.59 2087.88 847.48 2080.51 848.37 2072.44 850.12 2054.49 851.9 2033.46 853.69 2009.7 855.52 1982.53 857.45 1951.5 859.52 1915.66 864.55 1844.47 866.93 1813 869.17 1785.59 871.3 1761.86 873.4 1740.85 875.55 1721.86 876.64 1713.25 877.73 1705.33 878.83 1698.08 879.92 1691.49 881.04 1685.4 882.16 1679.98 883.31 1675.07 884.46 1670.81 885.64 1667.08 886.81 1663.96 888.04 1661.33 889.29 1659.26 889.92 1658.43 890.55 1657.74 891.21 1657.16 891.87 1656.72 892.47 1656.44 893.08 1656.26 893.71 1656.19 894.34 1656.23 894.97 1656.36 895.64 1656.62 896.3 1656.97 896.99 1657.44 898.39 1658.7 899.86 1660.4 901.38 1662.53 903.02 1665.18 904.31 1667.48 905.66 1670.07 908.65 1676.28 911.93 1683.61 920.26 1703 924.48 1712.56 929.05 1722.37 933.45 1731.16 935.98 1735.91 938.5 1740.43 941.03 1744.72 943.59 1748.82 946.15 1752.7 948.76 1756.45 951.4 1760.01 954.11 1763.42 956.95 1766.79 959.82 1769.97 962.75 1772.99 965.77 1775.88 968.85 1778.61 972.01 1781.21 975.25 1783.68 978.59 1786.01 982 1788.21 985.54 1790.3 989.18 1792.26 992.91 1794.1 996.74 1795.81 1000.77 1797.44 1004.88 1798.95 1009.1 1800.34 1013.12 1801.53 1017.34 1802.66 1021.65 1803.7 1026.15 1804.67 1030.84 1805.57 1035.63 1806.39 1040.7 1807.16 1045.97 1807.85 1051.43 1808.49 1057.18 1809.06 1069.63 1810.06 1083.52 1810.87 1099.22 1811.49 1114.74 1811.91 1132.55 1812.23 1153.43 1812.45 1178.62 1812.61 1245.57 1812.75 1391.43 1812.79" fill="none" stroke="#e90000" stroke-width="2.35" stroke-linejoin="round" stroke-linecap="round"/>
<path d="M816.88 2179.95L816.88 2134.57 827.25 2134.55 830.59 2134.39 832.05 2134.16 833.31 2133.78 834.44 2133.24 835.44 2132.54 836.61 2131.38 837.68 2129.91 838.69 2128.11 839.67 2125.89 840.61 2123.28 841.53 2120.23 842.42 2116.76 843.31 2112.76 844.18 2108.35 845.04 2103.41 846.73 2092.1 848.46 2078.47 850.27 2062.03 851.93 2045.21 853.77 2025.15 861.19 1938.2 862.97 1918.15 864.6 1900.63 866.5 1881.67 868.37 1864.58 870.18 1849.6 872.02 1836.01 873.1 1828.77 874.2 1821.97 875.32 1815.61 876.45 1809.75 877.6 1804.34 878.77 1799.36 879.98 1794.75 881.21 1790.54 882.5 1786.64 883.83 1783.15 885.21 1779.98 886.64 1777.15 888.25 1774.46 889.97 1772.08 890.69 1771.23 891.33 1770.6 891.99 1770.06 892.68 1769.64 893.65 1769.23 894.65 1769.05 895.69 1769.06 896.78 1769.29 897.93 1769.72 899.14 1770.37 900.43 1771.25 901.78 1772.33 903.94 1774.34 906.44 1776.98 909.17 1780.11 916.18 1788.45 919.74 1792.58 923.62 1796.83 927.31 1800.59 931.55 1804.54 935.77 1808.06 937.93 1809.71 940.08 1811.26 942.27 1812.73 944.48 1814.12 946.75 1815.45 949.05 1816.7 951.4 1817.88 953.82 1819.01 956.26 1820.05 958.79 1821.04 964.02 1822.84 969.53 1824.39 975.4 1825.73 981.69 1826.87 988.51 1827.83 994.35 1828.47 1000.67 1829.01 1007.47 1829.46 1015.04 1829.83 1023.27 1830.12 1032.56 1830.35 1055.74 1830.64 1079.78 1830.75 1116.65 1830.8 1391.43 1830.81" fill="none" stroke="#000000" stroke-width="2.35" stroke-linejoin="round" stroke-linecap="round"/>
<text transform="translate(12.9 48) scale(0.946 1)" font-size="44.2" font-weight="bold" fill="#000">B</text>
<text transform="translate(33.2 373.85) rotate(-90)" font-size="38" text-anchor="middle" fill="#000"><tspan font-style="italic">R</tspan> per cell</text>
<text transform="translate(759.3 373.85) rotate(-90)" font-size="38" text-anchor="middle" fill="#000"><tspan font-style="italic">R</tspan> per cell</text>
<text transform="translate(33.2 1138.7) rotate(-90)" font-size="38" text-anchor="middle" fill="#000"><tspan font-style="italic">R</tspan> per cell</text>
<text transform="translate(759.3 1138.7) rotate(-90)" font-size="38" text-anchor="middle" fill="#000"><tspan font-style="italic">R</tspan> per cell</text>
<text transform="translate(33.2 1903.7) rotate(-90)" font-size="38" text-anchor="middle" fill="#000"><tspan font-style="italic">R</tspan> per cell</text>
<text transform="translate(759.3 1903.7) rotate(-90)" font-size="38" text-anchor="middle" fill="#000"><tspan font-style="italic">R</tspan> per cell</text>
<g font-size="45" fill="#000"><text transform="translate(610.28 126.0) scale(0.94 1.035)">(</text><text x="625.51" y="126.0">g</text><text transform="translate(651.96 126.0) scale(0.94 1.035)">)</text></g>
<g font-size="45" fill="#000"><text transform="translate(1336.28 165.0) scale(0.94 1.035)">(</text><text x="1351.5" y="165.0">h</text><text transform="translate(1377.96 165.0) scale(0.94 1.035)">)</text></g>
<g font-size="45" fill="#000"><text transform="translate(617.88 939.9) scale(0.94 1.035)">(</text><text x="633.14" y="939.9">i</text><text transform="translate(644.66 939.9) scale(0.94 1.035)">)</text></g>
<g font-size="45" fill="#000"><text transform="translate(1343.08 939.9) scale(0.94 1.035)">(</text><text x="1359.52" y="939.9">j</text><text transform="translate(1371.26 939.9) scale(0.94 1.035)">)</text></g>
<g font-size="45" fill="#000"><text transform="translate(611.43 1675.4) scale(0.94 1.035)">(</text><text x="626.89" y="1675.4">k</text><text transform="translate(650.86 1675.4) scale(0.94 1.035)">)</text></g>
<g font-size="45" fill="#000"><text transform="translate(1343.88 1734.0) scale(0.94 1.035)">(</text><text x="1359.14" y="1734.0">l</text><text transform="translate(1370.36 1734.0) scale(0.94 1.035)">)</text></g>
<g font-size="45" fill="#000"><text x="684.6" y="2290">time</text><text transform="translate(778.58 2290) scale(0.94 1.035)">(</text><text x="796" y="2290" font-style="italic">s</text><text transform="translate(818.26 2290) scale(0.94 1.035)">)</text></g>
</svg>
</body></html>
